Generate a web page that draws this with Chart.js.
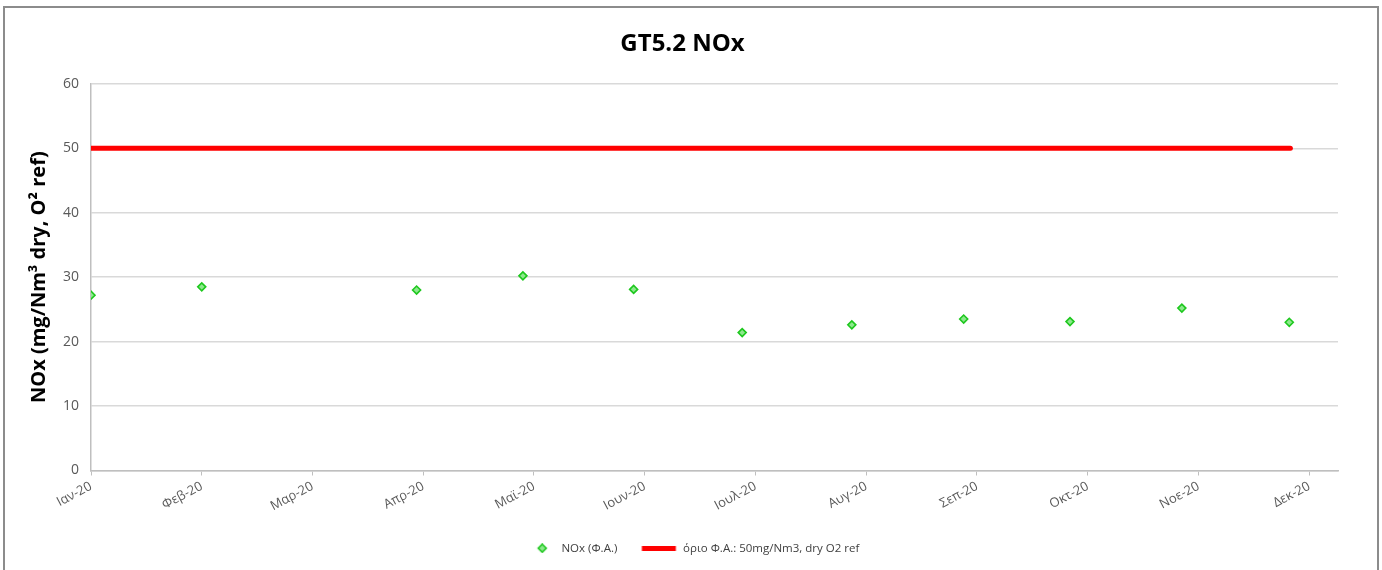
<!DOCTYPE html>
<html>
<head>
<style>
  body { margin: 0; background: #fff; overflow: hidden; }
  #frame { position: absolute; left: 3px; top: 6px; width: 1372px; height: 600px; border: 2px solid #8c8c8c; }
  #wrap { width: 1372px; height: 562px; }
</style>
</head>
<body>
    <script src="https://cdn.jsdelivr.net/npm/chart.js"></script>
    <div id="frame"><div id="wrap"><canvas id="canvas"></canvas></div></div>
    <script>
    // month tick labels (x = 0 .. 11)
    const monthLabels = ["Ιαν-20", "Φεβ-20", "Μαρ-20", "Απρ-20", "Μαϊ-20", "Ιουν-20", "Ιουλ-20", "Αυγ-20", "Σεπ-20", "Οκτ-20", "Νοε-20", "Δεκ-20"];
    // measurement positions in months from Jan and values
    const noxX = [0, 1.0, 2.94, 3.90, 4.90, 5.88, 6.87, 7.88, 8.84, 9.85, 10.82];
    const noxY = [27.2, 28.5, 28.0, 30.2, 28.1, 21.4, 22.6, 23.5, 23.1, 25.2, 23.0];
    // limit line
    const limitX = [0, 10.83];
    const limitY = [50, 50];

    const font = "'Open Sans', 'Liberation Sans', sans-serif";
    const iconW = 50;

    // legend icons: drawn right-aligned inside a box of width iconW
    function diamondIcon(){
        let c = document.createElement('canvas');
        c.width = iconW; c.height = 10;
        let g = c.getContext('2d');
        let cx = 36.5;
        g.beginPath();
        g.moveTo(cx, 1); g.lineTo(cx + 4, 5); g.lineTo(cx, 9); g.lineTo(cx - 4, 5); g.closePath();
        g.fillStyle = '#8de88d'; g.fill();
        g.strokeStyle = '#1ec81e'; g.lineWidth = 1.6; g.stroke();
        return c;
    }
    function lineIcon(){
        let c = document.createElement('canvas');
        c.width = iconW; c.height = 5;
        let g = c.getContext('2d');
        g.fillStyle = '#ff0000';
        g.fillRect(14.5, 0, 34, 5);
        return c;
    }

    const config = {
        type: 'scatter',
        data: {
            datasets: [{
                label: 'NOx (Φ.Α.)',
                data: noxX.map((x, i) => ({x: x, y: noxY[i]})),
                pointStyle: 'rectRot',
                pointRadius: 4,
                backgroundColor: '#8de88d',
                borderColor: '#1ec81e',
                borderWidth: 1.6,
                showLine: false
            }, {
                label: 'όριο Φ.Α.: 50mg/Nm3, dry O2 ref',
                data: limitX.map((x, i) => ({x: x, y: limitY[i]})),
                showLine: true,
                borderColor: '#ff0000',
                borderWidth: 5,
                borderCapStyle: 'round',
                pointRadius: 0
            }]
        },
        options: {
            responsive: true,
            maintainAspectRatio: false,
            animation: false,
            layout: { padding: { left: 22, right: 39, top: 8, bottom: 6 } },
            plugins: {
                title: {
                    display: true,
                    text: 'GT5.2 NOx',
                    color: '#000',
                    font: { family: font, size: 24, weight: 'bold' },
                    padding: { top: 14, bottom: 25 }
                },
                legend: {
                    position: 'bottom',
                    labels: {
                        usePointStyle: true,
                        pointStyleWidth: iconW,
                        color: '#404040',
                        font: { family: font, size: 11.5 },
                        padding: 10,
                        generateLabels: (chart) => [
                            { text: 'NOx (Φ.Α.)', pointStyle: diamondIcon(), fontColor: '#404040', datasetIndex: 0, lineWidth: 0 },
                            { text: 'όριο Φ.Α.: 50mg/Nm3, dry O2 ref', pointStyle: lineIcon(), fontColor: '#404040', datasetIndex: 1, lineWidth: 0 }
                        ]
                    }
                },
                tooltip: { enabled: false }
            },
            scales: {
                x: {
                    type: 'linear',
                    min: 0,
                    max: 11.26,
                    afterFit: (s) => { s.height = 62; },
                    border: { color: '#bfbfbf', width: 1.5 },
                    grid: { drawOnChartArea: false, drawTicks: true, tickLength: 5, color: '#bfbfbf' },
                    ticks: {
                        stepSize: 1,
                        includeBounds: false,
                        autoSkip: false,
                        minRotation: 28,
                        maxRotation: 28,
                        color: '#595959',
                        font: { family: font, size: 13 },
                        callback: (v) => Number.isInteger(v) ? monthLabels[v] : ''
                    }
                },
                y: {
                    min: 0,
                    max: 60,
                    afterFit: (s) => { s.width = 64; },
                    border: { color: '#bfbfbf', width: 1.5 },
                    grid: { color: '#d9d9d9', lineWidth: 1.5, drawTicks: false },
                    ticks: {
                        stepSize: 10,
                        padding: 12,
                        color: '#595959',
                        font: { family: font, size: 14 }
                    },
                    title: {
                        display: true,
                        text: 'NOx (mg/Nm³ dry, O² ref)',
                        color: '#000',
                        font: { family: font, size: 20, weight: 'bold' },
                        padding: { top: 0, bottom: 2 }
                    }
                }
            }
        }
    };
    const myChart = new Chart(document.getElementById('canvas'), config);
    </script>
</body>
</html>
